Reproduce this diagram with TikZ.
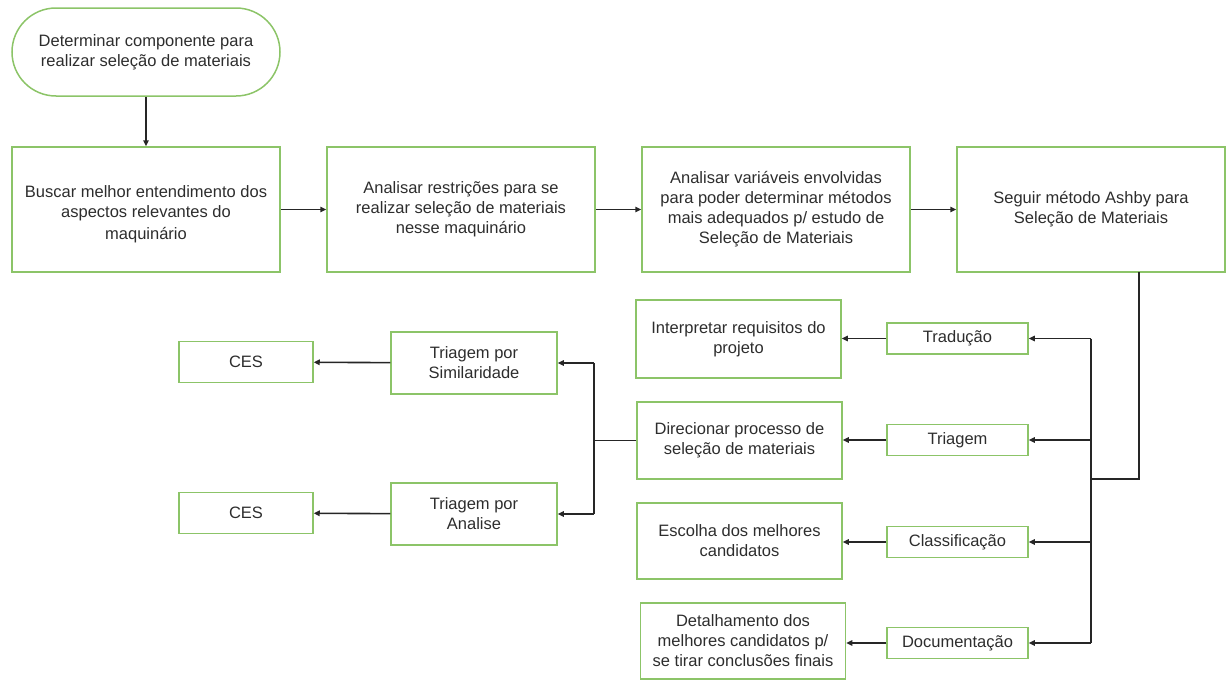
\documentclass[tikz,border=0pt]{standalone}
\usepackage{fontspec}
\setmainfont{Liberation Sans}
\usetikzlibrary{arrows.meta}
\definecolor{boxgreen}{RGB}{140,196,104}
\definecolor{txtgray}{RGB}{45,45,45}
\begin{document}
\begin{tikzpicture}[x=1pt, y=-1pt, >={Triangle[length=6pt,width=5.5pt]}]
	\tikzstyle{every node}=[inner sep=1pt, align=center, text=txtgray, font=\fontsize{16.5}{20}\selectfont]
	\tikzstyle{box}=[draw=boxgreen, line width=1.5pt, minimum width=268pt, minimum height=125pt]
	\tikzstyle{midbox}=[draw=boxgreen, line width=1.5pt, minimum width=205pt, minimum height=77pt]
	\tikzstyle{smallbox}=[draw=boxgreen, line width=1.5pt, minimum width=141pt, minimum height=31pt]
	\tikzstyle{link}=[draw=black!85, line width=1.6pt]
	\useasboundingbox (0,0) rectangle (1227,680);
	% fluxo principal
	\node[box, minimum height=88pt, rounded corners=44pt] (start) at (146, 52) {Determinar componente para\\realizar seleção de materiais};
	\node[box] (entender) at (146, 209.5) {\\[1pt]Buscar melhor entendimento dos\\aspectos relevantes do\\[2pt]maquinário};
	\node[box] (restricoes) at (461, 209.5) {Analisar restrições para se\\realizar seleção de materiais\\nesse maquinário};
	\node[box] (variaveis) at (776, 209.5) {Analisar variáveis envolvidas\\para poder determinar métodos\\mais adequados p/ estudo de\\Seleção de Materiais};
	\node[box] (ashby) at (1091, 209.5) {Seguir método Ashby para\\Seleção de Materiais};
	% etapas do metodo
	\node[smallbox] (traducao) at (957.5, 338.5) {Tradução};
	\node[smallbox] (triagem) at (957.5, 440) {Triagem};
	\node[smallbox] (classif) at (957.5, 542) {Classificação};
	\node[smallbox] (doc) at (957.5, 643) {Documentação};
	\node[midbox, minimum height=78pt] (interpretar) at (738.5, 339) {Interpretar requisitos do\\projeto};
	\node[midbox] (direcionar) at (739.5, 440.5) {Direcionar processo de\\seleção de materiais};
	\node[midbox, minimum height=76pt] (escolha) at (739.5, 541) {Escolha dos melhores\\candidatos};
	\node[midbox, minimum height=76pt] (detalhe) at (743, 641) {Detalhamento dos\\melhores candidatos p/\\se tirar conclusões finais};
	% triagem
	\node[smallbox, minimum width=166pt, minimum height=62pt] (similar) at (474, 363) {Triagem por\\Similaridade};
	\node[smallbox, minimum width=166pt, minimum height=62pt] (analise) at (474, 514) {Triagem por\\Analise};
	\node[smallbox, minimum width=134pt, minimum height=41pt] (ces1) at (246, 362) {CES};
	\node[smallbox, minimum width=134pt, minimum height=41pt] (ces2) at (246, 513) {CES};
	\coordinate (ashbyout) at (1139, 272);
	\coordinate (juncao) at (1091, 479);
	\coordinate (ramo) at (594, 440.5);
	% conexoes
	\draw [link, ->] (start) -- (entender);
	\draw [link, ->] (entender) -- (restricoes);
	\draw [link, ->] (restricoes) -- (variaveis);
	\draw [link, ->] (variaveis) -- (ashby);
	\draw [link] (ashbyout) |- (juncao);
	\draw [link] (juncao |- traducao) -- (juncao |- doc);
	\foreach \etapa in {traducao, triagem, classif, doc}
		\draw [link, ->] (juncao |- \etapa) -- (\etapa);
	\draw [link, ->] (traducao) -- (interpretar.east |- traducao);
	\draw [link, ->] (triagem) -- (direcionar.east |- triagem);
	\draw [link, ->] (classif) -- (escolha.east |- classif);
	\draw [link, ->] (doc) -- (detalhe.east |- doc);
	\draw [link] (direcionar) -- (ramo);
	\draw [link, ->] (ramo |- similar) -- (similar);
	\draw [link, ->] (ramo |- analise) -- (analise);
	\draw [link] (ramo |- similar) -- (ramo |- analise);
	\draw [link, ->] (similar) -- (ces1);
	\draw [link, ->] (analise) -- (ces2);
\end{tikzpicture}
\end{document}
